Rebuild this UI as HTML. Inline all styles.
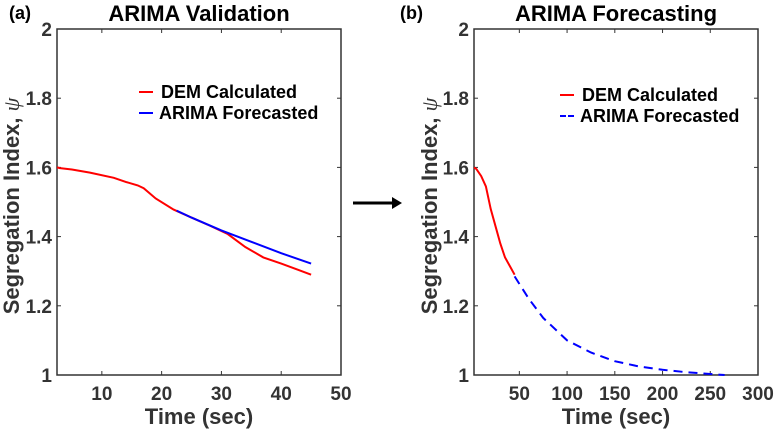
<!DOCTYPE html>
<html><head><meta charset="utf-8"><style>
body{margin:0;background:#fff}
svg text{font-family:"Liberation Sans",sans-serif;font-weight:bold}
</style></head><body>
<svg id="c" width="774" height="431" xmlns="http://www.w3.org/2000/svg"></svg>
<script>
const aRedX=[2.5,3,5,8,12,14,16,17,19,22,25,28,31,34,37,40,43,45];
const aRedY=[1.60,1.598,1.594,1.585,1.57,1.558,1.548,1.54,1.51,1.478,1.455,1.432,1.408,1.37,1.34,1.322,1.303,1.29];
const aBlueX=[22.5,25,30,35,40,45];
const aBlueY=[1.475,1.455,1.418,1.385,1.352,1.322];
const bRedX=[2.5,5,10,15,20,25,30,35,40,45];
const bRedY=[1.6,1.595,1.575,1.545,1.48,1.43,1.38,1.34,1.315,1.29];
const bBlueX=[45,60,75,100,125,150,175,200,225,250,265];
const bBlueY=[1.285,1.22,1.165,1.10,1.065,1.04,1.025,1.015,1.008,1.003,1.0];
const aXTicks=[10,20,30,40,50];
const bXTicks=[50,100,150,200,250,300];
const yTicks=[1,1.2,1.4,1.6,1.8,2];
const yTickLabels=["1","1.2","1.4","1.6","1.8","2"];

const svg=document.getElementById('c');
const NS="http://www.w3.org/2000/svg";
function mk(t,a,p){const e=document.createElementNS(NS,t);for(const k in a)e.setAttribute(k,a[k]);(p||svg).appendChild(e);return e;}

function panel(o){
  const g=mk('g',{});
  
  
  const xs=v=>o.L+(v-o.xmin)/(o.xmax-o.xmin)*(o.R-o.L);
  const ys=v=>o.B-(v-1)/(2-1)*(o.B-o.T);
  const box=mk('rect',{x:o.L,y:o.T,width:o.R-o.L,height:o.B-o.T,fill:'none',stroke:'#333','stroke-width':1.5},g);
  
  
  o.xt.forEach(v=>{
    const x=xs(v);
    mk('line',{x1:x,x2:x,y1:o.B,y2:o.B-4,stroke:'#333'},g);
    mk('line',{x1:x,x2:x,y1:o.T,y2:o.T+4,stroke:'#333'},g);
    const t=mk('text',{x:x,y:o.B+25,'text-anchor':'middle','font-size':19,fill:'#333'},g);
    t.textContent=v;
    
    
  });
  yTicks.forEach((v,i)=>{
    const y=ys(v);
    mk('line',{x1:o.L,x2:o.L+4,y1:y,y2:y,stroke:'#333'},g);
    mk('line',{x1:o.R,x2:o.R-4,y1:y,y2:y,stroke:'#333'},g);
    const t=mk('text',{x:o.L-5,y:y+7,'text-anchor':'end','font-size':19,fill:'#333'},g);
    t.textContent=yTickLabels[i];
    
    
  });
  const pts=(X,Y)=>X.map((x,i)=>xs(x).toFixed(1)+','+ys(Y[i]).toFixed(1)).join(' ');
  const r=mk('polyline',{points:pts(o.rx,o.ry),fill:'none',stroke:'#f00','stroke-width':2},g);
  
  
  const b=mk('polyline',{points:pts(o.bx,o.by),fill:'none',stroke:'#00f','stroke-width':2,'stroke-dasharray':o.dash?'9,6':'none'},g);
  
  
  mk('line',{x1:o.lx,x2:o.lx+14,y1:o.ly,y2:o.ly,stroke:'#f00','stroke-width':2},g);
  mk('line',{x1:o.lx,x2:o.lx+14,y1:o.ly+21,y2:o.ly+21,stroke:'#00f','stroke-width':2,'stroke-dasharray':o.dash?'6,2':'none'},g);
  const l1=mk('text',{x:o.lx+22,y:o.ly+6,'font-size':18,fill:'#000'},g);l1.textContent='DEM Calculated';
  
  
  const l2=mk('text',{x:o.lx+20,y:o.ly+27,'font-size':18,fill:'#000'},g);l2.textContent='ARIMA Forecasted';
  
  
  const ti=mk('text',{x:(o.L+o.R)/2,y:21,'text-anchor':'middle','font-size':22,fill:'#000'},g);ti.textContent=o.title;
  
  
  const pl=mk('text',{x:o.px,y:19,'font-size':18,fill:'#000'},g);pl.textContent=o.plab;
  
  
  const xl=mk('text',{x:(o.L+o.R)/2,y:424,'text-anchor':'middle','font-size':22,fill:'#333'},g);xl.textContent='Time (sec)';
  
  
  const yl=mk('text',{x:0,y:0,'text-anchor':'middle','font-size':22,fill:'#333',transform:`translate(${o.ylx},${(o.T+o.B)/2+4}) rotate(-90)`},g);
  yl.innerHTML='Segregation Index, <tspan font-style="italic" font-weight="normal" font-family="Liberation Serif,serif">ψ</tspan>';
  
  
}
panel({name:'validation-chart',L:57,R:341,T:29,B:375,xmin:2.5,xmax:50,xt:aXTicks,rx:aRedX,ry:aRedY,bx:aBlueX,by:aBlueY,dash:false,lx:139,ly:92,title:'ARIMA Validation',plab:'(a)',px:9,ylx:19});
panel({name:'forecasting-chart',L:474,R:758,T:29,B:375,xmin:2.5,xmax:300,xt:bXTicks,rx:bRedX,ry:bRedY,bx:bBlueX,by:bBlueY,dash:true,lx:560,ly:95,title:'ARIMA Forecasting',plab:'(b)',px:400,ylx:437});
const ar=mk('g',{});


mk('line',{x1:353,x2:396,y1:203,y2:203,stroke:'#000','stroke-width':3},ar);
mk('polygon',{points:'402,203 392,197 392,209',fill:'#000'},ar);
</script>
</body></html>
